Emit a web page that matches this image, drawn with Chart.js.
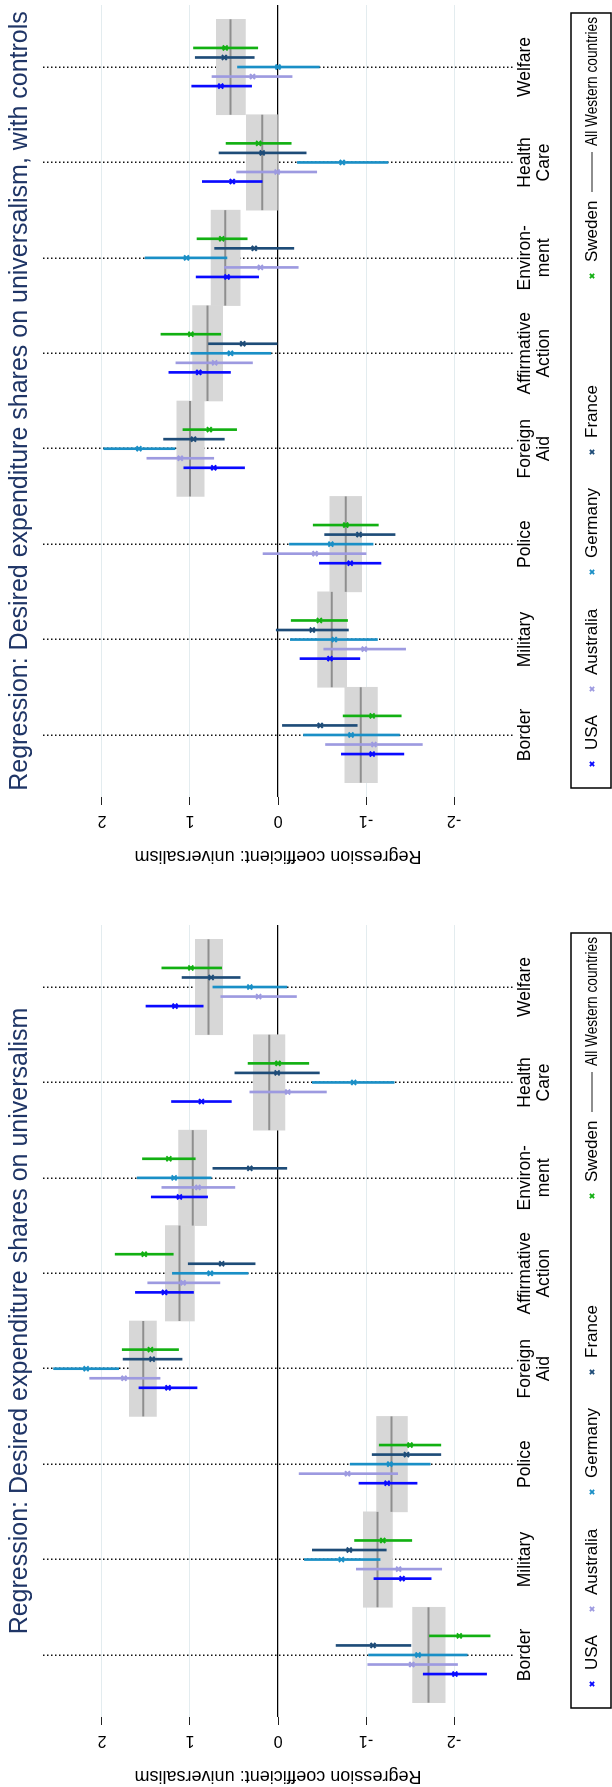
<!DOCTYPE html>
<html>
<head>
<meta charset="utf-8">
<script src="https://cdn.jsdelivr.net/npm/chart.js@4/dist/chart.umd.min.js"></script>
<style>
  html, body { margin: 0; padding: 0; background: #fff; overflow: hidden; }
  body { width: 612px; height: 1787px; position: relative; }
  /* the figure is built upright and turned a quarter left, like the page it came from */
  #page { position: absolute; left: 0; top: 1787px; width: 1840px; height: 612px;
          transform-origin: 0 0; transform: rotate(-90deg); }
  #page canvas { position: absolute; top: 0; }
</style>
</head>
<body>
<div id="page">
  <canvas id="plain" width="920" height="612" style="left:0"></canvas>
  <canvas id="controls" width="920" height="612" style="left:920px"></canvas>
</div>
<script>
const categories = [['Border'], ['Military'], ['Police'], ['Foreign', 'Aid'], ['Affirmative', 'Action'], ['Environ-', 'ment'], ['Health', 'Care'], ['Welfare']]
const countries = ['USA', 'Australia', 'Germany', 'France', 'Sweden']
const countryColors = ['#0a0aff', '#9d9ae0', '#1a8fc6', '#1e4c78', '#12b012']
const pooledLabel = 'All Western countries'
const valueTicks = [-2, -1, 0, 1, 2]

// panel 1, no controls: estimate, lower, upper (Border ... Welfare)
const usaEst = [-2.01, -1.41, -1.24, 1.25, 1.29, 1.12, 0.87, 1.17]
const usaLo = [-2.37, -1.74, -1.58, 0.92, 0.96, 0.80, 0.53, 0.85]
const usaHi = [-1.65, -1.09, -0.92, 1.58, 1.62, 1.44, 1.21, 1.50]
const ausEst = [-1.52, -1.37, -0.79, 1.75, 1.08, 0.91, -0.11, 0.22]
const ausLo = [-2.04, -1.86, -1.36, 1.34, 0.66, 0.49, -0.55, -0.21]
const ausHi = [-1.02, -0.89, -0.24, 2.14, 1.48, 1.32, 0.32, 0.65]
const gerEst = [-1.59, -0.72, -1.27, 2.18, 0.77, 1.18, -0.86, 0.32]
const gerLo = [-2.15, -1.16, -1.73, 1.81, 0.34, 0.76, -1.32, -0.10]
const gerHi = [-1.03, -0.30, -0.82, 2.55, 1.20, 1.60, -0.39, 0.74]
const fraEst = [-1.08, -0.81, -1.46, 1.43, 0.64, 0.32, 0.01, 0.76]
const fraLo = [-1.51, -1.23, -1.85, 1.09, 0.26, -0.10, -0.47, 0.43]
const fraHi = [-0.66, -0.39, -1.07, 1.76, 1.02, 0.74, 0.49, 1.09]
const sweEst = [-2.06, -1.19, -1.50, 1.45, 1.52, 1.24, 0.00, 0.99]
const sweLo = [-2.41, -1.52, -1.85, 1.13, 1.19, 0.94, -0.35, 0.64]
const sweHi = [-1.72, -0.87, -1.15, 1.77, 1.85, 1.54, 0.34, 1.32]
const allEst = [-1.71, -1.13, -1.29, 1.53, 1.12, 0.97, 0.10, 0.79]
const allLo = [-1.90, -1.30, -1.47, 1.38, 0.95, 0.81, -0.08, 0.63]
const allHi = [-1.53, -0.97, -1.12, 1.69, 1.28, 1.13, 0.28, 0.94]

// panel 2, with controls
const cUsaEst = [-1.07, -0.59, -0.82, 0.73, 0.90, 0.58, 0.52, 0.65]
const cUsaLo = [-1.43, -0.93, -1.17, 0.38, 0.54, 0.22, 0.18, 0.30]
const cUsaHi = [-0.72, -0.25, -0.47, 1.07, 1.24, 0.93, 0.86, 0.98]
const cAusEst = [-1.09, -0.98, -0.42, 1.11, 0.72, 0.20, 0.01, 0.29]
const cAusLo = [-1.64, -1.45, -1.00, 0.73, 0.29, -0.23, -0.44, -0.16]
const cAusHi = [-0.54, -0.52, 0.17, 1.49, 1.16, 0.61, 0.47, 0.75]
const cGerEst = [-0.83, -0.64, -0.60, 1.58, 0.54, 1.04, -0.73, 0.00]
const cGerLo = [-1.38, -1.13, -1.08, 1.17, 0.08, 0.58, -1.25, -0.47]
const cGerHi = [-0.29, -0.14, -0.13, 1.98, 0.99, 1.51, -0.22, 0.46]
const cFraEst = [-0.48, -0.39, -0.92, 0.96, 0.40, 0.27, 0.18, 0.61]
const cFraLo = [-0.90, -0.80, -1.33, 0.61, 0.01, -0.18, -0.32, 0.27]
const cFraHi = [-0.05, 0.02, -0.53, 1.30, 0.79, 0.72, 0.67, 0.94]
const cSweEst = [-1.07, -0.47, -0.77, 0.78, 0.99, 0.64, 0.22, 0.60]
const cSweLo = [-1.40, -0.79, -1.14, 0.47, 0.65, 0.35, -0.15, 0.23]
const cSweHi = [-0.74, -0.15, -0.40, 1.08, 1.33, 0.92, 0.59, 0.96]
const cAllEst = [-0.94, -0.61, -0.77, 1.00, 0.80, 0.60, 0.18, 0.54]
const cAllLo = [-1.13, -0.78, -0.95, 0.84, 0.63, 0.43, 0.00, 0.37]
const cAllHi = [-0.76, -0.45, -0.59, 1.15, 0.97, 0.76, 0.36, 0.70]

const FONT = "'Liberation Sans', Arial, sans-serif"
const X_MIN = 0.35
const X_MAX = 8.65

function buildDatasets (series, pooled) {
  const sets = []
  sets.push({
    type: 'bar',
    label: pooledLabel,
    xAxisID: 'x',
    order: 10,
    data: pooled.lo.map((lo, i) => ({ x: i + 1, y: [lo, pooled.hi[i]] })),
    backgroundColor: '#d7d7d7',
    borderWidth: 0,
    grouped: false,
    categoryPercentage: 1,
    barPercentage: 1
  })
  sets.push({
    type: 'line',
    label: pooledLabel,
    order: 8,
    data: pooled.est.flatMap((v, i) => [{ x: i + 0.5, y: v }, { x: i + 1.5, y: v }, { x: i + 1.5, y: null }]),
    borderColor: '#8e8e8e',
    borderWidth: 2,
    pointRadius: 0,
    spanGaps: false
  })
  series.forEach((s, k) => {
    const shift = (k - 2) * 0.1
    sets.push({
      type: 'bar',
      label: countries[k],
      xAxisID: 'xg',
      order: 5,
      data: s.lo.map((lo, i) => ({ x: i + 1 + shift, y: [lo, s.hi[i]] })),
      backgroundColor: countryColors[k],
      borderWidth: 0,
      barThickness: 2,
      grouped: false
    })
    sets.push({
      type: 'scatter',
      label: countries[k],
      order: 1,
      data: s.est.map((v, i) => ({ x: i + 1 + shift, y: v })),
      pointStyle: 'crossRot',
      pointRadius: 3.5,
      borderWidth: 2,
      borderColor: countryColors[k],
      backgroundColor: countryColors[k]
    })
  })
  return sets
}

// stata style key box under the plot
const keyBox = {
  id: 'keyBox',
  afterDraw (chart) {
    const ctx = chart.ctx
    const area = chart.chartArea
    const left = area.left + 9
    const right = area.right - 8
    const top = chart.height - 41
    const bottom = chart.height - 1
    const mid = (top + bottom) / 2 + 1
    ctx.save()
    ctx.strokeStyle = '#000'
    ctx.lineWidth = 1.5
    ctx.strokeRect(left, top, right - left, bottom - top)
    ctx.font = '17px ' + FONT
    ctx.textBaseline = 'middle'
    ctx.fillStyle = '#000'
    const marks = [24, 99, 216, 336, 512]
    countries.forEach((name, k) => {
      const x = left + marks[k]
      ctx.strokeStyle = countryColors[k]
      ctx.lineWidth = 2
      Chart.helpers.drawPoint(ctx, { pointStyle: 'crossRot', radius: 3, borderWidth: 2, rotation: 0 }, x, mid)
      ctx.fillText(name, x + 14, mid)
    })
    ctx.strokeStyle = '#8e8e8e'
    ctx.lineWidth = 2
    ctx.beginPath()
    ctx.moveTo(left + 596, mid)
    ctx.lineTo(left + 636, mid)
    ctx.stroke()
    ctx.fillText(pooledLabel, left + 642, mid, right - left - 646)
    ctx.restore()
  }
}

function makePanel (id, title, series, pooled) {
  return new Chart(document.getElementById(id), {
    type: 'scatter',
    data: { datasets: buildDatasets(series, pooled) },
    plugins: [keyBox],
    options: {
      responsive: false,
      devicePixelRatio: 1,
      animation: false,
      events: [],
      layout: { padding: { left: 0, right: 58, top: 0, bottom: 41 } },
      plugins: {
        legend: { display: false },
        tooltip: { enabled: false },
        title: {
          display: true,
          text: title,
          fullSize: false,
          color: '#1f3566',
          font: { family: FONT, size: 25, weight: 'normal', lineHeight: 1.2 },
          padding: { top: 5.5, bottom: 7.5 }
        }
      },
      scales: {
        x: {
          type: 'linear',
          position: 'bottom',
          min: X_MIN,
          max: X_MAX,
          offset: false,
          afterBuildTicks: s => { s.ticks = categories.map((c, i) => ({ value: i + 1 })) },
          afterFit: s => { s.height = 58 },
          grid: { display: false, drawTicks: false },
          border: { display: false },
          ticks: {
            autoSkip: false,
            maxRotation: 0,
            padding: 2.7,
            color: '#000',
            font: { family: FONT, size: 17.5, lineHeight: 1.07 },
            callback: (v, i) => categories[i]
          }
        },
        xg: {
          type: 'linear',
          position: 'bottom',
          min: X_MIN,
          max: X_MAX,
          offset: false,
          afterBuildTicks: s => { s.ticks = categories.slice(1).map((c, i) => ({ value: i + 1.5 })) },
          afterFit: s => { s.height = 0 },
          grid: { color: '#111', lineWidth: 1.5, drawTicks: false },
          border: { display: false, dash: [1.5, 2.5] },
          ticks: { display: false }
        },
        y: {
          type: 'linear',
          position: 'left',
          min: -2.67,
          max: 2.67,
          afterBuildTicks: s => { s.ticks = valueTicks.map(v => ({ value: v })) },
          afterFit: s => { s.width = 70 },
          grid: {
            color: c => c.tick && c.tick.value === 0 ? 'rgba(0,0,0,0)' : '#e3ecef',
            lineWidth: 1,
            tickColor: '#222',
            tickLength: 8
          },
          border: { display: false },
          ticks: {
            minRotation: 90,
            maxRotation: 90,
            crossAlign: 'center',
            padding: 8.5,
            color: '#000',
            font: { family: FONT, size: 16 },
            callback: v => String(v)
          },
          title: {
            display: true,
            text: 'Regression coefficient: universalism',
            color: '#000',
            font: { family: FONT, size: 18, lineHeight: 1.2 },
            padding: { top: 0, bottom: 0 }
          }
        },
        yz: {
          type: 'linear',
          position: 'left',
          min: -2.67,
          max: 2.67,
          z: 1,
          afterBuildTicks: s => { s.ticks = [{ value: 0 }] },
          afterFit: s => { s.width = 0 },
          grid: { color: '#000', lineWidth: 1.3, drawTicks: false },
          border: { display: false },
          ticks: { display: false }
        }
      }
    }
  })
}

makePanel('plain', 'Regression: Desired expenditure shares on universalism',
  [
    { est: usaEst, lo: usaLo, hi: usaHi },
    { est: ausEst, lo: ausLo, hi: ausHi },
    { est: gerEst, lo: gerLo, hi: gerHi },
    { est: fraEst, lo: fraLo, hi: fraHi },
    { est: sweEst, lo: sweLo, hi: sweHi }
  ],
  { est: allEst, lo: allLo, hi: allHi })

makePanel('controls', 'Regression: Desired expenditure shares on universalism, with controls',
  [
    { est: cUsaEst, lo: cUsaLo, hi: cUsaHi },
    { est: cAusEst, lo: cAusLo, hi: cAusHi },
    { est: cGerEst, lo: cGerLo, hi: cGerHi },
    { est: cFraEst, lo: cFraLo, hi: cFraHi },
    { est: cSweEst, lo: cSweLo, hi: cSweHi }
  ],
  { est: cAllEst, lo: cAllLo, hi: cAllHi })
</script>
</body>
</html>
